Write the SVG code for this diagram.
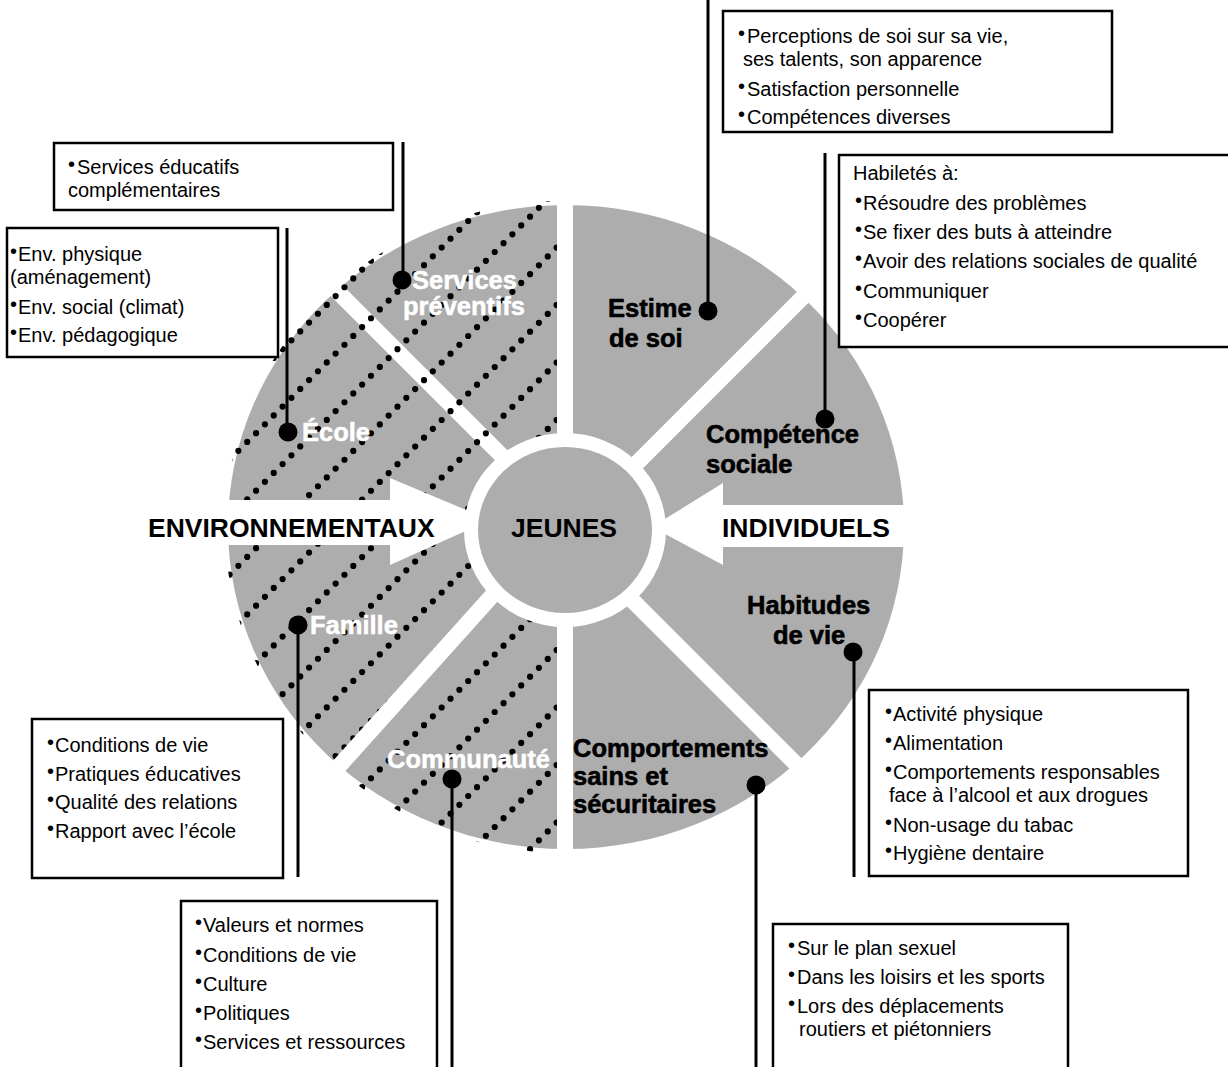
<svg xmlns="http://www.w3.org/2000/svg" width="1228" height="1067" viewBox="0 0 1228 1067">
<defs>
<style>
.t{font-family:"Liberation Sans",Arial,Helvetica,sans-serif;font-size:20px;fill:#000}
.b{font-size:20px}
.lb{font-family:"Liberation Sans",Arial,Helvetica,sans-serif;font-weight:bold;font-size:25.5px}
.w{fill:#fff;stroke:#fff;stroke-width:0.5}
.k{fill:#000;stroke:#000;stroke-width:0.6}
.hd{font-family:"Liberation Sans",Arial,Helvetica,sans-serif;font-weight:bold;font-size:26.5px;fill:#000}
.box{fill:#fff;stroke:#000;stroke-width:2.5}
.gap{stroke:#fff;stroke-width:16;fill:none}
.hatch{stroke:#000;stroke-width:6.2;stroke-linecap:round;stroke-dasharray:0 12.5;fill:none}
.con{stroke:#000;stroke-width:3;fill:none}
.dot{fill:#000}
.grey{fill:#adadad}
</style>
<clipPath id="ellClip"><ellipse cx="566" cy="527" rx="341" ry="326"/></clipPath>
<clipPath id="halfClip"><rect x="150" y="150" width="407" height="760"/></clipPath>
</defs>
<rect x="0" y="0" width="1228" height="1067" fill="#fff"/>

<g id="wheel">
<ellipse class="grey" cx="566" cy="527" rx="338" ry="322"/>
<line class="gap" x1="565" y1="150" x2="565" y2="900"/>
<line class="gap" x1="565" y1="519" x2="250" y2="204"/>
<line class="gap" x1="565" y1="535" x2="880" y2="220"/>
<line class="gap" x1="565" y1="533" x2="880" y2="848"/>
<g clip-path="url(#halfClip)">
<g clip-path="url(#ellClip)">
<path class="hatch" d="M150,481.7 L620,11.7 M150,539.2 L620,69.2 M150,596.7 L620,126.7 M150,654.2 L620,184.2 M150,711.7 L620,241.7 M150,769.2 L620,299.2 M150,826.7 L620,356.7 M150,884.2 L620,414.2 M150,941.7 L620,471.7 M150,999.2 L620,529.2 M150,1056.7 L620,586.7 M150,1114.2 L620,644.2 M150,1171.7 L620,701.7 M150,1229.2 L620,759.2"/>
</g>
</g>
<line class="gap" x1="560" y1="520" x2="270" y2="843"/>
</g>

<g id="arrow-environnementaux">
<polygon fill="#fff" points="215,500 390,500 390,478 490,520 390,565 390,545 215,545"/>
<text class="hd" x="148" y="537">ENVIRONNEMENTAUX</text>
</g>
<g id="arrow-individuels">
<polygon fill="#fff" points="915,505 723,505 723,483 652,527 723,565 723,547 915,547"/>
<text class="hd" x="722" y="537">INDIVIDUELS</text>
</g>

<g id="jeunes">
<ellipse fill="#fff" cx="565" cy="530" rx="101" ry="97"/>
<ellipse class="grey" cx="565" cy="530" rx="87" ry="83"/>
<text class="hd" x="511" y="537">JEUNES</text>
</g>

<g id="connectors">
<line class="con" x1="403" y1="142" x2="403" y2="280"/>
<line class="con" x1="287" y1="228" x2="287" y2="432"/>
<line class="con" x1="708" y1="0" x2="708" y2="311"/>
<line class="con" x1="825" y1="153" x2="825" y2="419"/>
<line class="con" x1="298" y1="625" x2="298" y2="877"/>
<line class="con" x1="452" y1="779" x2="452" y2="1067"/>
<line class="con" x1="854" y1="652" x2="854" y2="877"/>
<line class="con" x1="756" y1="785" x2="756" y2="1067"/>
</g>

<g id="sector-services">
<circle class="dot" cx="402" cy="280" r="9.5"/>
<text class="lb w" x="412" y="289">Services</text>
<text class="lb w" x="403" y="315">préventifs</text>
</g>
<g id="sector-ecole">
<circle class="dot" cx="288" cy="432" r="9.5"/>
<text class="lb w" x="302" y="441">École</text>
</g>
<g id="sector-famille">
<circle class="dot" cx="298" cy="625" r="9.5"/>
<text class="lb w" x="310" y="634">Famille</text>
</g>
<g id="sector-communaute">
<circle class="dot" cx="452" cy="779" r="9.5"/>
<text class="lb w" x="387" y="768">Communauté</text>
</g>
<g id="sector-estime">
<circle class="dot" cx="708" cy="311" r="9.5"/>
<text class="lb k" x="608" y="317">Estime</text>
<text class="lb k" x="609" y="347">de soi</text>
</g>
<g id="sector-competence">
<circle class="dot" cx="825" cy="419" r="9.5"/>
<text class="lb k" x="706" y="443">Compétence</text>
<text class="lb k" x="706" y="473">sociale</text>
</g>
<g id="sector-habitudes">
<circle class="dot" cx="853" cy="652" r="9.5"/>
<text class="lb k" x="747" y="614">Habitudes</text>
<text class="lb k" x="773" y="644">de vie</text>
</g>
<g id="sector-comportements">
<circle class="dot" cx="756" cy="785" r="9.5"/>
<text class="lb k" x="573" y="757">Comportements</text>
<text class="lb k" x="573" y="785">sains et</text>
<text class="lb k" x="573" y="813">sécuritaires</text>
</g>

<g id="box-estime">
<rect class="box" x="723" y="11" width="389" height="121"/>
<text class="t" x="738" y="43"><tspan class="b" dy="-3">•</tspan><tspan x="747" dy="3">Perceptions de soi sur sa vie,</tspan></text>
<text class="t" x="743" y="66">ses talents, son apparence</text>
<text class="t" x="738" y="96"><tspan class="b" dy="-3">•</tspan><tspan x="747" dy="3">Satisfaction personnelle</tspan></text>
<text class="t" x="738" y="124"><tspan class="b" dy="-3">•</tspan><tspan x="747" dy="3">Compétences diverses</tspan></text>
</g>

<g id="box-competence">
<rect class="box" x="839" y="155" width="400" height="192"/>
<text class="t" x="853" y="180">Habiletés à:</text>
<text class="t" x="855" y="210"><tspan class="b" dy="-3">•</tspan><tspan x="863" dy="3">Résoudre des problèmes</tspan></text>
<text class="t" x="855" y="239"><tspan class="b" dy="-3">•</tspan><tspan x="863" dy="3">Se fixer des buts à atteindre</tspan></text>
<text class="t" x="855" y="268"><tspan class="b" dy="-3">•</tspan><tspan x="863" dy="3">Avoir des relations sociales de qualité</tspan></text>
<text class="t" x="855" y="298"><tspan class="b" dy="-3">•</tspan><tspan x="863" dy="3">Communiquer</tspan></text>
<text class="t" x="855" y="327"><tspan class="b" dy="-3">•</tspan><tspan x="863" dy="3">Coopérer</tspan></text>
</g>

<g id="box-habitudes">
<rect class="box" x="869" y="690" width="319" height="186"/>
<text class="t" x="885" y="721"><tspan class="b" dy="-3">•</tspan><tspan x="893" dy="3">Activité physique</tspan></text>
<text class="t" x="885" y="750"><tspan class="b" dy="-3">•</tspan><tspan x="893" dy="3">Alimentation</tspan></text>
<text class="t" x="885" y="779"><tspan class="b" dy="-3">•</tspan><tspan x="893" dy="3">Comportements responsables</tspan></text>
<text class="t" x="889" y="802">face à l’alcool et aux drogues</text>
<text class="t" x="885" y="832"><tspan class="b" dy="-3">•</tspan><tspan x="893" dy="3">Non-usage du tabac</tspan></text>
<text class="t" x="885" y="860"><tspan class="b" dy="-3">•</tspan><tspan x="893" dy="3">Hygiène dentaire</tspan></text>
</g>

<g id="box-comportements">
<rect class="box" x="773" y="924" width="295" height="160"/>
<text class="t" x="788" y="955"><tspan class="b" dy="-3">•</tspan><tspan x="797" dy="3">Sur le plan sexuel</tspan></text>
<text class="t" x="788" y="984"><tspan class="b" dy="-3">•</tspan><tspan x="797" dy="3">Dans les loisirs et les sports</tspan></text>
<text class="t" x="788" y="1013"><tspan class="b" dy="-3">•</tspan><tspan x="797" dy="3">Lors des déplacements</tspan></text>
<text class="t" x="799" y="1036">routiers et piétonniers</text>
</g>

<g id="box-communaute">
<rect class="box" x="181" y="901" width="256" height="180"/>
<text class="t" x="195" y="932"><tspan class="b" dy="-3">•</tspan><tspan x="203" dy="3">Valeurs et normes</tspan></text>
<text class="t" x="195" y="962"><tspan class="b" dy="-3">•</tspan><tspan x="203" dy="3">Conditions de vie</tspan></text>
<text class="t" x="195" y="991"><tspan class="b" dy="-3">•</tspan><tspan x="203" dy="3">Culture</tspan></text>
<text class="t" x="195" y="1020"><tspan class="b" dy="-3">•</tspan><tspan x="203" dy="3">Politiques</tspan></text>
<text class="t" x="195" y="1049"><tspan class="b" dy="-3">•</tspan><tspan x="203" dy="3">Services et ressources</tspan></text>
</g>

<g id="box-famille">
<rect class="box" x="32" y="719" width="251" height="159"/>
<text class="t" x="47" y="752"><tspan class="b" dy="-3">•</tspan><tspan x="55" dy="3">Conditions de vie</tspan></text>
<text class="t" x="47" y="781"><tspan class="b" dy="-3">•</tspan><tspan x="55" dy="3">Pratiques éducatives</tspan></text>
<text class="t" x="47" y="809"><tspan class="b" dy="-3">•</tspan><tspan x="55" dy="3">Qualité des relations</tspan></text>
<text class="t" x="47" y="838"><tspan class="b" dy="-3">•</tspan><tspan x="55" dy="3">Rapport avec l’école</tspan></text>
</g>

<g id="box-ecole">
<rect class="box" x="7" y="228" width="271" height="129"/>
<text class="t" x="10" y="261"><tspan class="b" dy="-3">•</tspan><tspan x="18" dy="3">Env. physique</tspan></text>
<text class="t" x="10" y="284">(aménagement)</text>
<text class="t" x="10" y="314"><tspan class="b" dy="-3">•</tspan><tspan x="18" dy="3">Env. social (climat)</tspan></text>
<text class="t" x="10" y="342"><tspan class="b" dy="-3">•</tspan><tspan x="18" dy="3">Env. pédagogique</tspan></text>
</g>

<g id="box-services">
<rect class="box" x="54" y="143" width="339" height="67"/>
<text class="t" x="68" y="174"><tspan class="b" dy="-3">•</tspan><tspan x="77" dy="3">Services éducatifs</tspan></text>
<text class="t" x="68" y="197">complémentaires</text>
</g>
</svg>
